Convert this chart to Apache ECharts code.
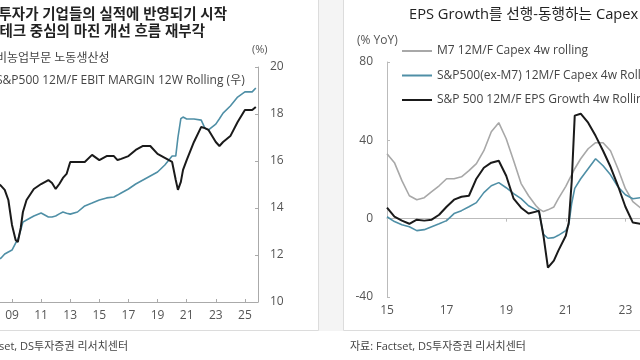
<!DOCTYPE html>
<html>
<head>
<meta charset="utf-8">
<script src="https://cdn.jsdelivr.net/npm/echarts@6/dist/echarts.min.js"></script>
<style>
html,body{margin:0;padding:0;background:#fff;}
#chart{width:640px;height:360px;}
</style>
</head>
<body>
<div id="chart"></div>
<script>
// ---- Left chart: 비농업부문 노동생산성 vs S&P500 EBIT margin ----
const lDates = [2007.75, 2008.0, 2008.25, 2008.5, 2008.75, 2009.0, 2009.25, 2009.4, 2009.6, 2009.75,
  2010.0, 2010.5, 2011.0, 2011.5, 2011.75, 2012.0, 2012.25, 2012.5, 2012.75, 2013.0,
  2013.5, 2014.0, 2014.5, 2015.0, 2015.5, 2016.0, 2016.25, 2016.5, 2017.0, 2017.5,
  2018.0, 2018.5, 2019.0, 2019.5, 2020.0, 2020.25, 2020.4, 2020.6, 2020.75, 2021.0,
  2021.5, 2022.0, 2022.25, 2022.5, 2023.0, 2023.25, 2023.5, 2024.0, 2024.5, 2025.0,
  2025.5, 2025.75];
const productivity = [15.19, 15.06, 14.94, 14.77, 14.34, 13.28, 12.64, 12.55, 13.15, 13.83,
  14.34, 14.81, 15.02, 15.19, 15.06, 14.81, 15.02, 15.28, 15.45, 15.96,
  15.96, 15.96, 16.26, 16.04, 16.21, 16.21, 16.04, 16.09, 16.21, 16.47,
  16.64, 16.64, 16.30, 16.13, 15.96, 15.19, 14.77, 15.11, 15.62, 16.04,
  16.81, 17.45, 17.40, 17.32, 16.81, 16.64, 16.81, 17.06, 17.66, 18.17,
  18.17, 18.30];
const ebitMargin = [11.70, 11.79, 11.87, 12.04, 12.13, 12.21, 12.51, 12.65, 13.06, 13.40,
  13.49, 13.66, 13.79, 13.62, 13.62, 13.66, 13.75, 13.83, 13.78, 13.74,
  13.83, 14.09, 14.21, 14.34, 14.43, 14.47, 14.55, 14.64, 14.81, 15.02,
  15.19, 15.36, 15.53, 15.83, 16.21, 16.21, 17.0, 17.80, 17.87, 17.79,
  17.79, 17.74, 17.40, 17.32, 17.57, 17.80, 18.04, 18.34, 18.72, 18.94,
  18.94, 19.11];
const leftNames = ['비농업부문 노동생산성', 'S&P500 12M/F EBIT MARGIN 12W Rolling (우)'];

// ---- Right chart: Capex vs EPS growth (% YoY) ----
const rDates = [2015.0, 2015.25, 2015.5, 2015.75, 2016.0, 2016.25, 2016.5, 2016.75, 2017.0, 2017.25,
  2017.5, 2017.75, 2018.0, 2018.25, 2018.5, 2018.75, 2019.0, 2019.25, 2019.5, 2019.75,
  2020.0, 2020.1, 2020.25, 2020.4, 2020.6, 2020.75, 2021.0, 2021.1, 2021.2, 2021.3,
  2021.5, 2021.75, 2022.0, 2022.25, 2022.5, 2022.75, 2023.0, 2023.25, 2023.5, 2023.75];
const m7Capex = [33.2, 28.6, 19.4, 11.7, 9.7, 10.7, 13.8, 16.8, 20.4, 20.4,
  21.4, 24.5, 28.1, 34.7, 44.4, 49.0, 40.8, 29.6, 17.9, 11.7,
  6.6, 5.0, 3.6, 4.5, 6.0, 10.2, 16.5, 19.5, 22.5, 25.5,
  30.6, 35.7, 38.8, 38.8, 34.7, 25.5, 15.3, 8.7, 5.6, 4.0];
const exM7Capex = [1.0, -1.5, -3.1, -4.1, -6.1, -5.6, -4.1, -2.6, -1.0, 2.6,
  4.1, 6.1, 8.2, 13.3, 16.8, 18.4, 15.8, 12.8, 10.2, 6.6,
  4.6, 3.5, -8.0, -10.0, -9.7, -8.5, -6.1, -3.0, 8.0, 15.5,
  20.4, 25.5, 30.6, 27.0, 22.4, 16.3, 12.2, 10.2, 10.7, 11.0];
const epsGrowth = [5.6, 1.0, -1.0, -2.6, -0.5, -1.0, -0.5, 2.0, 6.1, 9.7,
  11.2, 11.7, 20.4, 26.0, 28.6, 29.6, 21.9, 10.2, 5.6, 2.6,
  3.6, 4.0, -8.7, -25.0, -21.4, -16.3, -8.7, -2.0, 19.4, 52.6,
  53.6, 49.0, 42.3, 34.7, 26.5, 16.8, 6.1, -2.0, -2.6, -1.0];
const rightNames = ['M7 12M/F Capex 4w rolling', 'S&P500(ex-M7) 12M/F Capex 4w Rolling', 'S&P 500 12M/F EPS Growth 4w Rolling'];

const FONT = "'Open Sans', 'Noto Sans CJK KR', sans-serif";
const zip = (xs, ys) => xs.map((x, i) => [x, ys[i]]);
const yearLabel = v => Number.isInteger(v) ? String(v).slice(2) : '';

const chart = echarts.init(document.getElementById('chart'), null, {renderer: 'canvas'});
chart.setOption({
  backgroundColor: '#ffffff',
  animation: false,
  graphic: [
    {type: 'rect', z: -10, shape: {x: 318, y: 0, width: 26, height: 331}, style: {fill: '#f4f4f4'}},
    {type: 'rect', z: -9, shape: {x: -5, y: -5, width: 323.5, height: 335.5}, style: {fill: '#fff', stroke: '#dcdcdc', lineWidth: 1}},
    {type: 'rect', z: -9, shape: {x: 343.5, y: -5, width: 310, height: 335.5}, style: {fill: '#fff', stroke: '#dcdcdc', lineWidth: 1}},
    {type: 'text', x: 227, y: 15, style: {text: '투자가 기업들의 실적에 반영되기 시작', align: 'right', verticalAlign: 'middle', fontSize: 14.5, fontWeight: 'bold', fontFamily: FONT, fill: '#222'}},
    {type: 'text', x: 205, y: 32, style: {text: '빅테크 중심의 마진 개선 흐름 재부각', align: 'right', verticalAlign: 'middle', fontSize: 14.5, fontWeight: 'bold', fontFamily: FONT, fill: '#222'}},
    {type: 'text', x: 252, y: 50, style: {text: '(%)', align: 'left', verticalAlign: 'middle', fontSize: 11, fontFamily: FONT, fill: '#555'}},
    {type: 'text', x: 128, y: 347, style: {text: '자료: Factset, DS투자증권 리서치센터', align: 'right', verticalAlign: 'middle', fontSize: 11, fontFamily: FONT, fill: '#444'}},
    {type: 'text', x: 409, y: 15, style: {text: 'EPS Growth를 선행-동행하는 Capex', align: 'left', verticalAlign: 'middle', fontSize: 14.7, fontFamily: FONT, fill: '#222'}},
    {type: 'text', x: 357, y: 41, style: {text: '(% YoY)', align: 'left', verticalAlign: 'middle', fontSize: 12, fontFamily: FONT, fill: '#555'}},
    {type: 'text', x: 350, y: 347, style: {text: '자료: Factset, DS투자증권 리서치센터', align: 'left', verticalAlign: 'middle', fontSize: 11, fontFamily: FONT, fill: '#444'}}
  ],
  legend: [
    {
      data: leftNames, orient: 'vertical', left: -44, top: 48, itemGap: 10,
      itemWidth: 30, itemHeight: 2, icon: 'rect',
      textStyle: {fontSize: 12, fontFamily: FONT, color: '#444'}
    },
    {
      data: rightNames, orient: 'vertical', left: 397, top: 40, itemGap: 12.5,
      itemWidth: 30, itemHeight: 2, icon: 'rect',
      textStyle: {fontSize: 12, fontFamily: FONT, color: '#444'}
    }
  ],
  grid: [
    {left: -17.12, right: 382, top: 67, bottom: 58, containLabel: false, outerBoundsMode: 'none'},
    {left: 387, right: -45, top: 62, bottom: 63, containLabel: false, outerBoundsMode: 'none'}
  ],
  xAxis: [
    {
      type: 'value', gridIndex: 0, min: 2007, max: 2025.9, interval: 2,
      axisLine: {show: true, onZero: false, lineStyle: {color: '#aaa'}},
      axisTick: {show: true, inside: true, length: 3, lineStyle: {color: '#aaa'}},
      axisLabel: {formatter: yearLabel, color: '#555', fontSize: 12, fontFamily: FONT, margin: 8},
      splitLine: {show: false}
    },
    {
      type: 'value', gridIndex: 1, min: 2015, max: 2025, interval: 2, position: 'bottom',
      axisLine: {show: false, onZero: false},
      axisTick: {show: false},
      axisLabel: {formatter: yearLabel, color: '#555', fontSize: 12, fontFamily: FONT, margin: 8},
      splitLine: {show: false}
    },
    {
      type: 'value', gridIndex: 1, min: 2015, max: 2025, interval: 2, position: 'top',
      axisLine: {show: true, onZero: true, lineStyle: {color: '#bbb'}},
      axisTick: {show: true, inside: true, length: 3, lineStyle: {color: '#bbb'}},
      axisLabel: {show: false},
      splitLine: {show: false}
    }
  ],
  yAxis: [
    {
      type: 'value', gridIndex: 0, position: 'right', min: 10, max: 20, interval: 2,
      axisLine: {show: true, lineStyle: {color: '#aaa'}},
      axisTick: {show: true, inside: true, length: 3, lineStyle: {color: '#aaa'}},
      axisLabel: {color: '#555', fontSize: 12, fontFamily: FONT, margin: 12},
      splitLine: {show: false}
    },
    {
      type: 'value', gridIndex: 0, position: 'left', min: 10, max: 20, show: false,
      splitLine: {show: false}
    },
    {
      type: 'value', gridIndex: 1, position: 'left', min: -40, max: 80, interval: 40,
      axisLine: {show: true, onZero: false, lineStyle: {color: '#bbb'}},
      axisTick: {show: true, inside: true, length: 3, lineStyle: {color: '#bbb'}},
      axisLabel: {color: '#555', fontSize: 12, fontFamily: FONT, margin: 14},
      splitLine: {show: false}
    }
  ],
  series: [
    {
      name: leftNames[0], type: 'line', xAxisIndex: 0, yAxisIndex: 1, data: zip(lDates, productivity),
      showSymbol: false, lineStyle: {color: '#1a1a1a', width: 2}, itemStyle: {color: '#1a1a1a'}, z: 3
    },
    {
      name: leftNames[1], type: 'line', xAxisIndex: 0, yAxisIndex: 0, data: zip(lDates, ebitMargin),
      showSymbol: false, lineStyle: {color: '#4f8fa6', width: 1.6}, itemStyle: {color: '#4f8fa6'}, z: 2
    },
    {
      name: rightNames[0], type: 'line', xAxisIndex: 1, yAxisIndex: 2, data: zip(rDates, m7Capex),
      showSymbol: false, lineStyle: {color: '#a8a8a8', width: 1.6}, itemStyle: {color: '#a8a8a8'}, z: 2
    },
    {
      name: rightNames[1], type: 'line', xAxisIndex: 1, yAxisIndex: 2, data: zip(rDates, exM7Capex),
      showSymbol: false, lineStyle: {color: '#4f8fa6', width: 1.6}, itemStyle: {color: '#4f8fa6'}, z: 3
    },
    {
      name: rightNames[2], type: 'line', xAxisIndex: 1, yAxisIndex: 2, data: zip(rDates, epsGrowth),
      showSymbol: false, lineStyle: {color: '#1a1a1a', width: 2}, itemStyle: {color: '#1a1a1a'}, z: 4
    }
  ]
});
</script>
</body>
</html>
